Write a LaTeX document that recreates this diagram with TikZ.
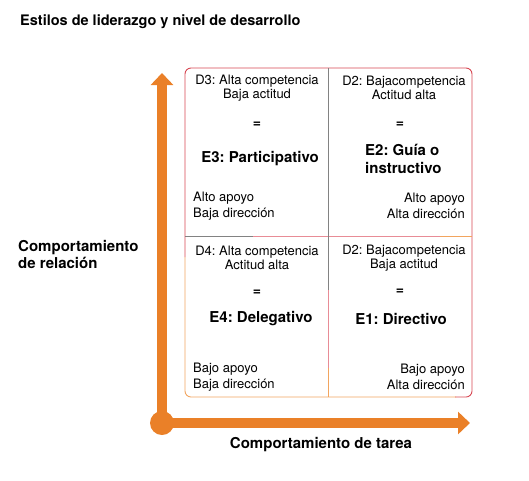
\documentclass[tikz,border=0pt]{standalone}
\usepackage{fontspec}
\setmainfont{TeX Gyre Heros}
\frenchspacing
\usetikzlibrary{arrows.meta,positioning}

\definecolor{axisOrange}{RGB}{234,128,40}
\definecolor{edgeRed}{RGB}{214,70,82}
\definecolor{softRed}{RGB}{232,140,150}
\definecolor{edgeOrange}{RGB}{242,165,95}
\definecolor{divGray}{RGB}{130,130,130}

\begin{document}
\begin{tikzpicture}[
    x=1pt, y=-1pt,
    inner sep=0pt,
    body/.style={font=\fontsize{13}{13.5}\selectfont},
    equal/.style={font=\fontsize{14}{14}\selectfont\bfseries},
    lower/.style={font=\fontsize{13}{16.5}\selectfont},
    style/.style={font=\fontsize{15}{18}\selectfont\bfseries},
    axisLabel/.style={font=\fontsize{15}{17}\selectfont\bfseries},
    axis/.style={axisOrange, line width=10pt, -{Triangle[width=22pt,length=12pt]}},
    frameRed/.style={edgeRed, line width=0.9pt, rounded corners=6pt},
    frameOrange/.style={edgeOrange, line width=0.9pt, rounded corners=6pt},
    divider/.style={line width=0.7pt},
  ]

  \useasboundingbox (0,0) rectangle (529,480);

  % ---- title ------------------------------------------------------------
  \node[anchor=west, font=\fontsize{14.5}{17}\selectfont\bfseries] (title) at (20,22)
        {Estilos de liderazgo y nivel de desarrollo};

  % ---- axes ---------------------------------------------------------------
  \coordinate (origin) at (162,423);
  \coordinate (yTip) at (162,73);
  \coordinate (xTip) at (470,423);
  \draw[axis] (origin) -- (yTip);
  \draw[axis] (origin) -- (xTip);
  \fill[axisOrange] (origin) circle (12pt);

  \node[axisLabel, anchor=west, align=left] (relLabel) at (18,254)
        {Comportamiento\\de relación};
  \node[axisLabel] (taskLabel) at (321,445) {Comportamiento de tarea};

  % ---- frame and dividers --------------------------------------------------
  \draw[frameRed] (185,257) -- (185,68) -- (472,68) -- (472,397) -- (455,397);
  \draw[frameOrange] (185,257) -- (185,397) -- (456,397);

  \draw[divider, divGray] (185,236) -- (253,236);
  \draw[divider, softRed] (253,236) -- (440,236);
  \draw[divider, edgeOrange] (440,236) -- (472,236);

  \draw[divider, divGray] (328,68) -- (328,290);
  \draw[divider, softRed] (328,290) -- (328,368);
  \draw[divider, edgeOrange] (328,368) -- (328,397);

  % ---- E3 (top left) --------------------------------------------------------
  \node[body, align=center] (d3) at (257,88) {D3: Alta competencia\\Baja actitud};
  \node[equal] (eq3) at (257,125) {=};
  \node[style] (e3) at (260,159) {E3: Participativo};
  \node[lower, anchor=west, align=left] (s3) at (193,206) {Alto apoyo\\Baja dirección};

  % ---- E2 (top right) -------------------------------------------------------
  \node[body, align=center] (d2a) at (404,88) {D2: Bajacompetencia\\Actitud alta};
  \node[equal] (eq2) at (400,125) {=};
  \node[style, anchor=west, align=left] (e2) at (365,159) {E2: Guía o\\instructivo};
  \node[lower, anchor=east, align=right] (s2) at (465,206) {Alto apoyo\\Alta dirección};

  % ---- E4 (bottom left) -----------------------------------------------------
  \node[body, align=center] (d4) at (257,258) {D4: Alta competencia\\Actitud alta};
  \node[equal] (eq4) at (257,292.5) {=};
  \node[style] (e4) at (261,318.5) {E4: Delegativo};
  \node[lower, anchor=west, align=left] (s4) at (193,377) {Bajo apoyo\\Baja dirección};

  % ---- E1 (bottom right) ----------------------------------------------------
  \node[body, align=center] (d2b) at (404,258) {D2: Bajacompetencia\\Baja actitud};
  \node[equal] (eq1) at (400,292) {=};
  \node[style] (e1) at (401,318.5) {E1: Directivo};
  \node[lower, anchor=east, align=right] (s1) at (465,377) {Bajo apoyo\\Alta dirección};

\end{tikzpicture}
\end{document}
